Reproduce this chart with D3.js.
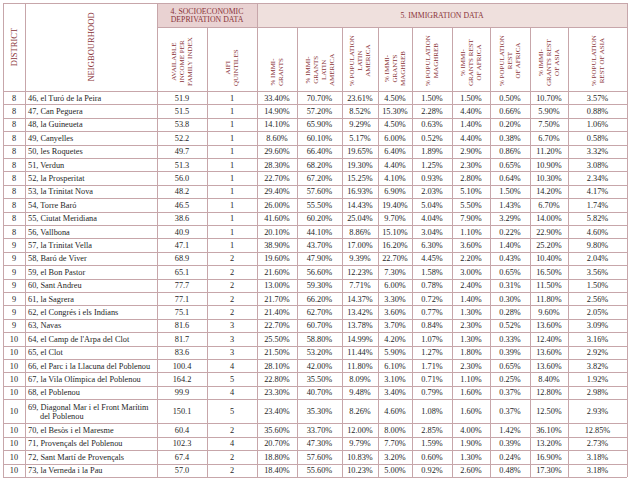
<!DOCTYPE html>
<html>
<head>
<meta charset="utf-8">
<script src="https://cdn.jsdelivr.net/npm/d3@7"></script>
<style>
  body { margin: 0; background: #fff; }
  svg text { font-family: "Liberation Serif", "Times New Roman", serif; }
</style>
</head>
<body>
<div id="table"></div>
<script>
// Table data, one array per column
const districts = [8, 8, 8, 8, 8, 8, 8, 8, 8, 8, 8, 9, 9, 9, 9, 9, 9, 9, 10, 10, 10, 10, 10, 10, 10, 10, 10, 10];
const neighbourhoods = [
  "46, el Turó de la Peira", "47, Can Peguera", "48, la Guineueta", "49, Canyelles",
  "50, les Roquetes", "51, Verdun", "52, la Prosperitat", "53, la Trinitat Nova",
  "54, Torre Baró", "55, Ciutat Meridiana", "56, Vallbona", "57, la Trinitat Vella",
  "58, Baró de Viver", "59, el Bon Pastor", "60, Sant Andreu", "61, la Sagrera",
  "62, el Congrés i els Indians", "63, Navas", "64, el Camp de l'Arpa del Clot", "65, el Clot",
  "66, el Parc i la Llacuna del Poblenou", "67, la Vila Olímpica del Poblenou", "68, el Poblenou",
  "69, Diagonal Mar i el Front Marítim del Poblenou", "70, el Besòs i el Maresme",
  "71, Provençals del Poblenou", "72, Sant Martí de Provençals", "73, la Verneda i la Pau"
];
const incomeIndex = [51.9, 51.5, 53.8, 52.2, 49.7, 51.3, 56.0, 48.2, 46.5, 38.6, 40.9, 47.1, 68.9, 65.1,
  77.7, 77.1, 75.1, 81.6, 81.7, 83.6, 100.4, 164.2, 99.9, 150.1, 60.4, 102.3, 67.4, 57.0];
const aifiQuintiles = [1, 1, 1, 1, 1, 1, 1, 1, 1, 1, 1, 1, 2, 2, 2, 2, 2, 3, 3, 3, 4, 5, 4, 5, 2, 4, 2, 2];
const pctImmigrants = [33.40, 14.90, 14.10, 8.60, 29.60, 28.30, 22.70, 29.40, 26.00, 41.60, 20.10, 38.90, 19.60, 21.60,
  13.00, 21.70, 21.40, 22.70, 25.50, 21.50, 28.10, 22.80, 23.30, 23.40, 35.60, 20.70, 18.80, 18.40];
const pctImmLatinAmerica = [70.70, 57.20, 65.90, 60.10, 66.40, 68.20, 67.20, 57.60, 55.50, 60.20, 44.10, 43.70, 47.90, 56.60,
  59.30, 66.20, 62.70, 60.70, 58.80, 53.20, 42.00, 35.50, 40.70, 35.30, 33.70, 47.30, 57.60, 55.60];
const pctPopLatinAmerica = [23.61, 8.52, 9.29, 5.17, 19.65, 19.30, 15.25, 16.93, 14.43, 25.04, 8.86, 17.00, 9.39, 12.23,
  7.71, 14.37, 13.42, 13.78, 14.99, 11.44, 11.80, 8.09, 9.48, 8.26, 12.00, 9.79, 10.83, 10.23];
const pctImmMaghreb = [4.50, 15.30, 4.50, 6.00, 6.40, 4.40, 4.10, 6.90, 19.40, 9.70, 15.10, 16.20, 22.70, 7.30,
  6.00, 3.30, 3.60, 3.70, 4.20, 5.90, 6.10, 3.10, 3.40, 4.60, 8.00, 7.70, 3.20, 5.00];
const pctPopMaghreb = [1.50, 2.28, 0.63, 0.52, 1.89, 1.25, 0.93, 2.03, 5.04, 4.04, 3.04, 6.30, 4.45, 1.58,
  0.78, 0.72, 0.77, 0.84, 1.07, 1.27, 1.71, 0.71, 0.79, 1.08, 2.85, 1.59, 0.60, 0.92];
const pctImmRestAfrica = [1.50, 4.40, 1.40, 4.40, 2.90, 2.30, 2.80, 5.10, 5.50, 7.90, 1.10, 3.60, 2.20, 3.00,
  2.40, 1.40, 1.30, 2.30, 1.30, 1.80, 2.30, 1.10, 1.60, 1.60, 4.00, 1.90, 1.30, 2.60];
const pctPopRestAfrica = [0.50, 0.66, 0.20, 0.38, 0.86, 0.65, 0.64, 1.50, 1.43, 3.29, 0.22, 1.40, 0.43, 0.65,
  0.31, 0.30, 0.28, 0.52, 0.33, 0.39, 0.65, 0.25, 0.37, 0.37, 1.42, 0.39, 0.24, 0.48];
const pctImmRestAsia = [10.70, 5.90, 7.50, 6.70, 11.20, 10.90, 10.30, 14.20, 6.70, 14.00, 22.90, 25.20, 10.40, 16.50,
  11.50, 11.80, 9.60, 13.60, 12.40, 13.60, 13.60, 8.40, 12.80, 12.50, 36.10, 13.20, 16.90, 17.30];
const pctPopRestAsia = [3.57, 0.88, 1.06, 0.58, 3.32, 3.08, 2.34, 4.17, 1.74, 5.82, 4.60, 9.80, 2.04, 3.56,
  1.50, 2.56, 2.05, 3.09, 3.16, 2.92, 3.82, 1.92, 2.98, 2.93, 12.85, 2.73, 3.18, 3.18];

const groupHeaders = [
  {label: ["4. SOCIOECONOMIC", "DEPRIVATION DATA"], from: 2, to: 4, fill: "#e9d2d2"},
  {label: ["5. IMMIGRATION DATA"], from: 4, to: 13, fill: "#efe0dd"}
];

const pct = d => d3.format(".2f")(d) + "%";

const columns = [
  {label: ["DISTRICT"], w: 22, values: districts, fmt: d => d},
  {label: ["NEIGBOURHOOD"], w: 132, values: neighbourhoods, fmt: d => d, left: true},
  {label: ["AVAILABLE", "INCOME PER", "FAMILY INDEX"], w: 50, values: incomeIndex, fmt: d3.format(".1f")},
  {label: ["AIFI", "QUINTILES"], w: 50, values: aifiQuintiles, fmt: d => d},
  {label: ["% IMMI-", "GRANTS"], w: 40, values: pctImmigrants, fmt: pct},
  {label: ["% IMMI-", "GRANTS", "LATIN", "AMERICA"], w: 45, values: pctImmLatinAmerica, fmt: pct},
  {label: ["% POPULATION", "LATIN", "AMERICA"], w: 36, values: pctPopLatinAmerica, fmt: pct},
  {label: ["% IMMI-", "GRANTS", "MAGHREB"], w: 34, values: pctImmMaghreb, fmt: pct},
  {label: ["% POPULATION", "MAGHREB"], w: 40, values: pctPopMaghreb, fmt: pct},
  {label: ["% IMMI-", "GRANTS REST", "OF AFRICA"], w: 38, values: pctImmRestAfrica, fmt: pct},
  {label: ["% POPULATION", "REST", "OF AFRICA"], w: 40, values: pctPopRestAfrica, fmt: pct},
  {label: ["% IMMI-", "GRANTS REST", "OF ASIA"], w: 38, values: pctImmRestAsia, fmt: pct},
  {label: ["% POPULATION", "REST OF ASIA"], w: 59, values: pctPopRestAsia, fmt: pct}
];

const width = 631, height = 481;
const margin = {top: 3, right: 4, bottom: 4, left: 3};
const groupBottom = 27, headerBottom = 91;
const lineColor = "#c7a6aa", headColor = "#8a3339", bodyColor = "#262626";
const bodySize = 8.3, headSize = 7;

const svg = d3.select("#table")
    .append("svg")
    .attr("width", width)
    .attr("height", height);

// Column edges through a linear scale
const edges = [0, ...d3.cumsum(columns, c => c.w)];
const x = d3.scaleLinear()
    .domain([0, edges[edges.length - 1]])
    .range([margin.left, width - margin.right]);

// Wrap neighbourhood names to find row heights
const measure = svg.append("text").attr("font-size", bodySize);
const textWidth = s => measure.text(s).node().getComputedTextLength();
const nameWidth = x(edges[2]) - x(edges[1]) - 4;
const wrapped = neighbourhoods.map(name => {
    const words = name.split(" ");
    const lines = [];
    let line = words[0];
    words.slice(1).forEach(w => {
        if (textWidth(line + " " + w) > nameWidth) { lines.push(line); line = w; }
        else line += " " + w;
    });
    lines.push(line);
    return lines;
});
measure.remove();

const rowUnits = wrapped.map(l => 1 + 0.8 * (l.length - 1));
const rowStart = [0, ...d3.cumsum(rowUnits)];
const y = d3.scaleLinear()
    .domain([0, rowStart[rowStart.length - 1]])
    .range([headerBottom, height - margin.bottom]);

// Group header backgrounds
svg.append("g")
    .selectAll("rect")
    .data(groupHeaders)
    .enter().append("rect")
    .attr("x", d => x(edges[d.from]))
    .attr("y", margin.top)
    .attr("width", d => x(edges[d.to]) - x(edges[d.from]))
    .attr("height", groupBottom - margin.top)
    .attr("fill", d => d.fill);

// Grid lines
const grid = svg.append("g")
    .attr("stroke", lineColor)
    .attr("stroke-width", 1)
    .attr("shape-rendering", "crispEdges");

const hLines = [margin.top, headerBottom, ...rowStart.slice(1).map(y)];
grid.selectAll(".h")
    .data(hLines)
    .enter().append("line")
    .attr("x1", x(0))
    .attr("x2", x(edges[edges.length - 1]))
    .attr("y1", d => Math.round(d) + 0.5)
    .attr("y2", d => Math.round(d) + 0.5);

grid.append("line")
    .attr("x1", x(edges[2]))
    .attr("x2", x(edges[edges.length - 1]))
    .attr("y1", groupBottom + 0.5)
    .attr("y2", groupBottom + 0.5);

const fullEdges = [0, 1, 2, 4, edges.length - 1];
grid.selectAll(".v")
    .data(edges)
    .enter().append("line")
    .attr("x1", d => Math.round(x(d)) + 0.5)
    .attr("x2", d => Math.round(x(d)) + 0.5)
    .attr("y1", (d, i) => fullEdges.includes(i) ? margin.top : groupBottom)
    .attr("y2", height - margin.bottom);

// Group header labels
svg.append("g")
    .selectAll("text")
    .data(groupHeaders)
    .enter().append("text")
    .attr("text-anchor", "middle")
    .attr("font-size", 7.8)
    .attr("fill", headColor)
    .attr("x", d => (x(edges[d.from]) + x(edges[d.to])) / 2)
    .attr("y", d => (margin.top + groupBottom) / 2 - (d.label.length - 1) * 4 + 2.7)
    .selectAll("tspan")
    .data(d => d.label)
    .enter().append("tspan")
    .attr("x", function() { return this.parentNode.getAttribute("x"); })
    .attr("dy", (d, i) => i ? 8 : 0)
    .text(d => d);

// Rotated column headers
const heads = svg.append("g")
    .selectAll("g")
    .data(columns)
    .enter().append("g")
    .attr("fill", headColor);

heads.each(function(col, ci) {
    const g = d3.select(this);
    const cx = (x(edges[ci]) + x(edges[ci + 1])) / 2;
    const spanning = ci < 2;
    const size = spanning ? 8.6 : headSize;
    const lh = 8;
    const texts = g.selectAll("text")
        .data(col.label)
        .enter().append("text")
        .attr("font-size", size)
        .attr("dy", "0.35em")
        .text(d => d);
    const maxLen = d3.max(texts.nodes(), n => n.getComputedTextLength());
    const baseY = spanning ? (margin.top + headerBottom) / 2 + maxLen / 2 : headerBottom - 5;
    texts
        .attr("text-anchor", "middle")
        .attr("transform", (d, i) =>
            `translate(${cx + (i - (col.label.length - 1) / 2) * lh},${baseY - maxLen / 2}) rotate(-90)`);
});

// Body cells
const rows = svg.append("g")
    .attr("font-size", bodySize)
    .attr("fill", bodyColor)
    .selectAll("g")
    .data(d3.range(neighbourhoods.length))
    .enter().append("g");

columns.forEach((col, ci) => {
    if (col.left) {
        rows.append("text")
            .attr("x", x(edges[ci]) + 3)
            .attr("y", r => (y(rowStart[r]) + y(rowStart[r + 1])) / 2 - (wrapped[r].length - 1) * 4)
            .selectAll("tspan")
            .data(r => wrapped[r])
            .enter().append("tspan")
            .attr("x", (d, i) => x(edges[ci]) + 3 + (i ? 12 : 0))
            .attr("dy", (d, i) => i ? "1em" : "0.35em")
            .text(d => d);
    } else {
        rows.append("text")
            .attr("text-anchor", "middle")
            .attr("x", (x(edges[ci]) + x(edges[ci + 1])) / 2)
            .attr("y", r => (y(rowStart[r]) + y(rowStart[r + 1])) / 2)
            .attr("dy", "0.35em")
            .text(r => col.fmt(col.values[r]));
    }
});
</script>
</body>
</html>
